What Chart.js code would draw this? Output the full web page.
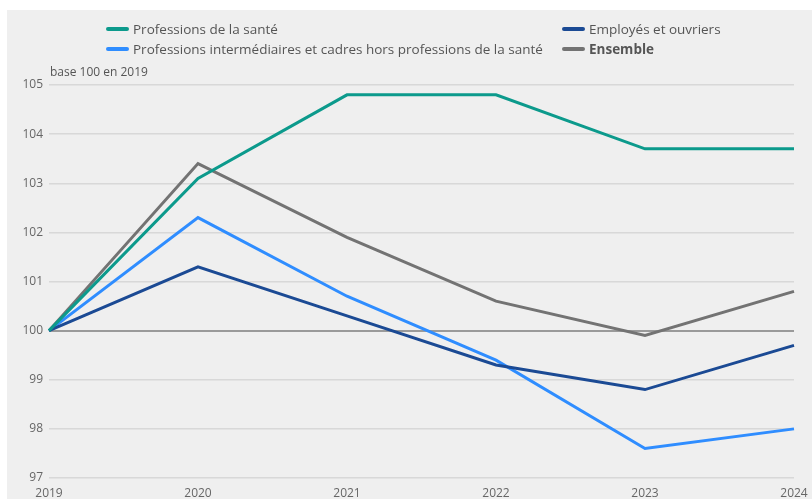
<!DOCTYPE html>
<html>
<head>
<meta charset="utf-8">
<script src="https://cdn.jsdelivr.net/npm/chart.js@4"></script>
<style>
  body { margin: 0; background: #fff; font-family: "Open Sans", sans-serif; }
  #wrap { position: relative; width: 812px; height: 499px; }
  #panel { position: absolute; left: 7px; top: 10px; right: 0; bottom: 0; background: #efefef; }
  #chart { position: absolute; left: 0; top: 0; }
  .leg { position: absolute; font-size: 13.5px; color: #555; line-height: 16px; white-space: nowrap; }
  .leg i { position: absolute; left: -27px; top: 6px; width: 23px; height: 4px; border-radius: 2px; }
  #unit { position: absolute; left: 50px; top: 63px; font-size: 12px; color: #555; }
</style>
</head>
<body>
<div id="wrap">
  <div id="panel"></div>
  <canvas id="chart" width="812" height="499"></canvas>
  <div id="legend"></div>
  <div id="unit">base 100 en 2019</div>
</div>
<script>
// Indices base 100 en 2019
var years = ['2019', '2020', '2021', '2022', '2023', '2024'];
var sante = [100, 103.1, 104.8, 104.8, 103.7, 103.7];
var employes = [100, 101.3, 100.3, 99.3, 98.8, 99.7];
var intermediaires = [100, 102.3, 100.7, 99.4, 97.6, 98.0];
var ensemble = [100, 103.4, 101.9, 100.6, 99.9, 100.8];

var labels = ['Professions de la santé', 'Employés et ouvriers',
    'Professions intermédiaires et cadres hors professions de la santé', 'Ensemble'];
var colors = ['#0c9a8c', '#1b4a94', '#2f8dff', '#737373'];
var series = [sante, employes, intermediaires, ensemble];

// legend in two columns, like the original
var legendPos = [[133, 21], [589, 21], [133, 41], [589, 41]];
var legend = document.getElementById('legend');
labels.forEach(function (lab, i) {
    var d = document.createElement('div');
    d.className = 'leg';
    d.style.left = legendPos[i][0] + 'px';
    d.style.top = legendPos[i][1] + 'px';
    if (i == 3) d.style.fontWeight = 'bold';
    d.innerHTML = '<i style="background:' + colors[i] + '"></i>';
    d.appendChild(document.createTextNode(lab));
    legend.appendChild(d);
});

var datasets = series.map(function (s, i) {
    return {
        label: labels[i],
        data: s,
        borderColor: colors[i],
        backgroundColor: colors[i],
        borderWidth: 3,
        pointRadius: 0,
        tension: 0,
        borderJoinStyle: 'miter'
    };
});

var chart = new Chart(document.getElementById('chart'), {
    type: 'line',
    data: { labels: years, datasets: datasets },
    options: {
        responsive: false,
        animation: false,
        layout: { padding: { top: 85, right: 18, left: 0, bottom: 0 } },
        plugins: { legend: { display: false }, tooltip: { enabled: false } },
        scales: {
            x: {
                grid: { display: false },
                border: { display: false },
                ticks: { color: '#666', font: { family: 'Open Sans', size: 12 }, padding: 0, maxRotation: 0 },
                afterFit: function (s) { s.height = 21; }
            },
            y: {
                min: 97,
                max: 105,
                border: { display: false },
                grid: {
                    drawTicks: false,
                    color: function (c) { return c.tick && c.tick.value == 100 ? '#9a9a9a' : '#d8d8d8'; },
                    lineWidth: function (c) { return c.tick && c.tick.value == 100 ? 2 : 1.5; }
                },
                ticks: { stepSize: 1, color: '#666', font: { family: 'Open Sans', size: 12 }, padding: 6 },
                afterFit: function (s) { s.width = 49; }
            }
        }
    }
});
</script>
</body>
</html>
